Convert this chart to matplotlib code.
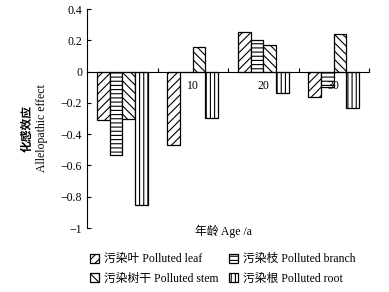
import matplotlib
matplotlib.use("Agg")
import matplotlib.pyplot as plt
import numpy as np

plt.rcParams['font.family'] = ['Liberation Serif', 'Noto Sans CJK SC']
plt.rcParams['hatch.linewidth'] = 0.8
plt.rcParams['axes.unicode_minus'] = True

# data
ages = ['', '10', '20', '30']
leaf = [-0.31, -0.47, 0.255, -0.165]
branch = [-0.53, 0.0, 0.20, -0.10]
stem = [-0.30, 0.16, 0.17, 0.24]
root = [-0.85, -0.295, -0.135, -0.23]

series = [
    (leaf, '////', '污染叶 Polluted leaf'),
    (branch, '----', '污染枝 Polluted branch'),
    (stem, '\\\\\\\\', '污染树干 Polluted stem'),
    (root, '||||', '污染根 Polluted root'),
]

fig = plt.figure(figsize=(3.89, 2.92), dpi=100)
ax = fig.add_axes([0.2237, 0.219, 0.725, 0.75])

x = np.arange(len(ages)) + 0.5
w = 0.18
handles = {}
for i, (vals, hatch, label) in enumerate(series):
    b = ax.bar(x + (i - 1.5) * w, vals, w, color='white', edgecolor='black',
               linewidth=0.9, hatch=hatch, label=label)
    handles[label] = b

ax.set_xlim(0, 4)
ax.set_ylim(-1, 0.4)
ax.spines['top'].set_visible(False)
ax.spines['right'].set_visible(False)
ax.spines['bottom'].set_position(('data', 0))
ax.spines['left'].set_linewidth(0.8)
ax.spines['bottom'].set_linewidth(0.8)

ax.set_yticks([0.4, 0.2, 0, -0.2, -0.4, -0.6, -0.8, -1])
ax.set_yticklabels(['0.4', '0.2', '0', '\u22120.2', '\u22120.4', '\u22120.6', '\u22120.8', '\u22121'])
ax.tick_params(axis='y', direction='in', length=3, labelsize=8.5, width=0.8)

ax.set_xticks(x)
ax.set_xticklabels(ages)
ax.set_xticks([1, 2, 3, 4], minor=True)
ax.tick_params(axis='x', which='major', length=0, labelsize=8.5, pad=6)
ax.tick_params(axis='x', which='minor', direction='in', length=3, width=0.8)

fig.text(0.072, 0.56, '化感效应', rotation=90, ha='center', va='center',
         fontsize=8.5, fontweight='bold')
fig.text(0.108, 0.56, 'Allelopathic effect', rotation=90, ha='center', va='center',
         fontsize=8.5)
fig.text(0.575, 0.208, '年龄 Age /a', ha='center', va='center', fontsize=8.5)

order = [series[0][2], series[2][2], series[1][2], series[3][2]]
fig.legend([handles[k] for k in order], order, ncol=2, loc='upper left',
           bbox_to_anchor=(0.215, 0.153), frameon=False, fontsize=8.5,
           handlelength=0.8, handleheight=0.8, handletextpad=0.4,
           columnspacing=0.9, labelspacing=0.65, borderpad=0)

fig.savefig('out.png', dpi=100)
